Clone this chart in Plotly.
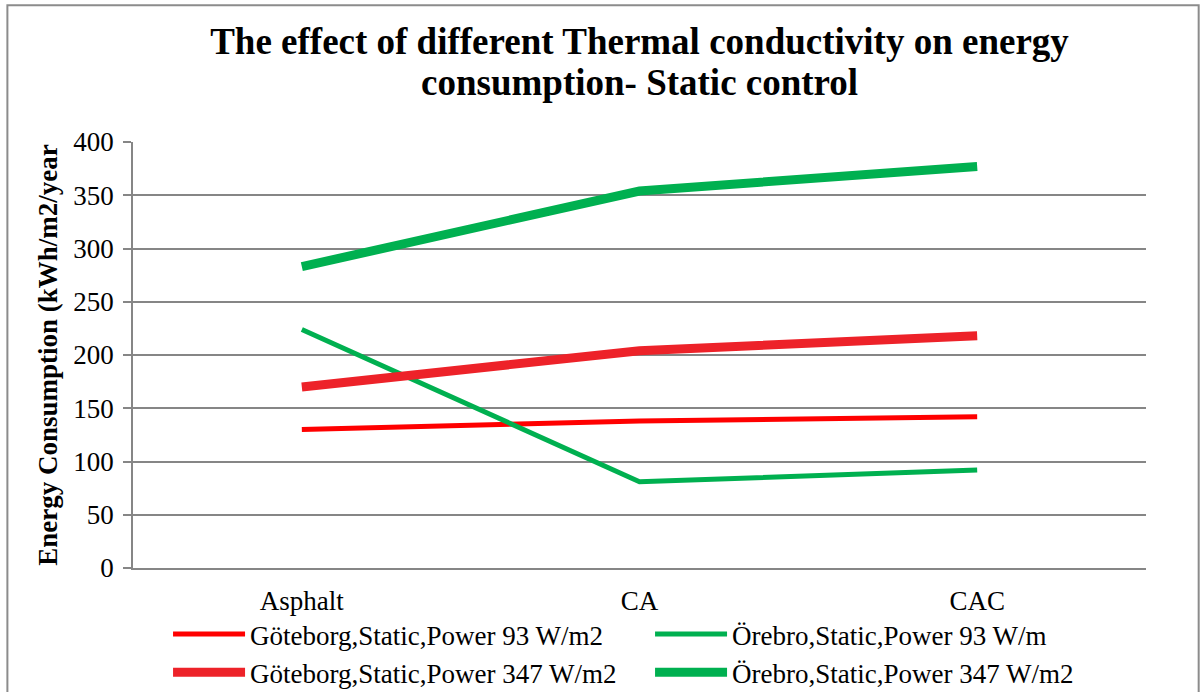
import plotly.graph_objects as go

categories = ["Asphalt", "CA", "CAC"]
series_names = [
    "Göteborg,Static,Power 93 W/m2",
    "Örebro,Static,Power 93 W/m",
    "Göteborg,Static,Power 347 W/m2",
    "Örebro,Static,Power 347 W/m2",
]
goteborg_93 = [130, 138, 142]
orebro_93 = [224, 81, 92]
goteborg_347 = [170, 204, 218]
orebro_347 = [283, 354, 377]
y_ticks = [0, 50, 100, 150, 200, 250, 300, 350, 400]
title_lines = ["The effect of different Thermal conductivity on energy",
               "consumption- Static control"]

series_values = [goteborg_93, orebro_93, goteborg_347, orebro_347]
colors = ["#FF0000", "#00B050", "#ED2229", "#00B050"]
widths = [5, 5, 9, 9]

FONT = "Liberation Serif"

fig = go.Figure()
for name, vals, c, w in zip(series_names, series_values, colors, widths):
    fig.add_trace(go.Scatter(
        x=categories, y=vals, mode="lines", name=name,
        line=dict(color=c, width=w),
    ))

fig.update_layout(
    width=1201, height=692,
    margin=dict(l=133, r=55, t=142, b=124, autoexpand=False),
    paper_bgcolor="white", plot_bgcolor="white",
    font=dict(family=FONT, size=27, color="black"),
    title=dict(
        text="<b>" + title_lines[0] + "</b>",
        x=0.5, xref="paper", xanchor="center",
        y=0.9408, yref="container", yanchor="middle",
        font=dict(family=FONT, size=37, color="black"),
    ),
    annotations=[dict(
        text="<b>" + title_lines[1] + "</b>",
        x=0.5, xref="paper", xanchor="center",
        y=1.1408, yref="paper", yanchor="middle",
        showarrow=False, font=dict(family=FONT, size=37, color="black"),
    )],
    showlegend=True,
    legend=dict(
        orientation="h", x=0.0346, xanchor="left",
        y=-0.0986, yanchor="top",
        entrywidth=395, itemwidth=72, traceorder="normal",
        font=dict(family=FONT, size=27, color="black"),
        bgcolor="rgba(0,0,0,0)", tracegroupgap=0,
    ),
    shapes=[dict(
        type="rect", xref="paper", yref="paper",
        x0=-0.124, x1=1.052, y0=-0.35, y1=1.321,
        line=dict(color="#8C8C8C", width=2), fillcolor="rgba(0,0,0,0)", layer="below",
    )],
)

fig.update_xaxes(
    type="category", range=[-0.5, 2.5],
    showline=True, linecolor="#868686", linewidth=1.5,
    showgrid=False, ticks="", ticklabelstandoff=8,
    tickfont=dict(family=FONT, size=27, color="black"),
)
fig.update_yaxes(
    range=[0, 400], tickvals=y_ticks,
    showline=True, linecolor="#868686", linewidth=1.5,
    showgrid=True, gridcolor="#868686", gridwidth=1.5,
    ticks="outside", ticklen=8, tickcolor="#868686", tickwidth=1.5,
    ticklabelstandoff=4,
    tickfont=dict(family=FONT, size=27, color="black"),
    zeroline=False,
    title=dict(text="<b>Energy Consumption (kWh/m2/year</b>", standoff=8,
               font=dict(family=FONT, size=27, color="black")),
)

fig.write_html("out.html")
